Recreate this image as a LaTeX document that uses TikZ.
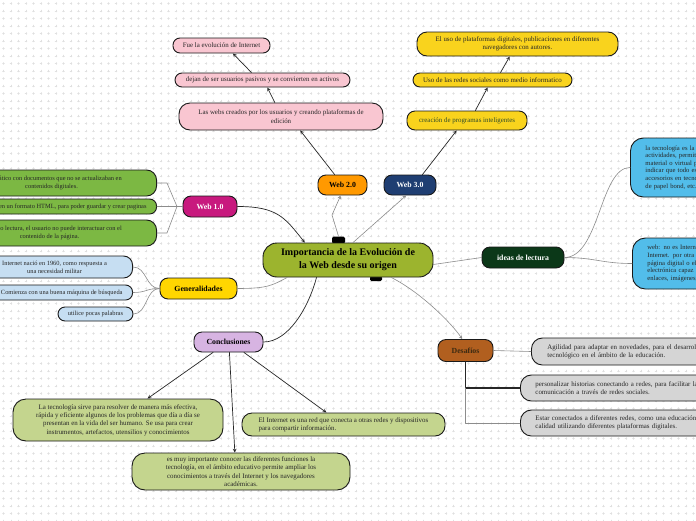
\documentclass[tikz,border=0pt]{standalone}
\usepackage{fontspec}
\setmainfont{Liberation Serif}
\definecolor{cCentral}{HTML}{9CB42E}
\definecolor{cWebII}{HTML}{FF9900}
\definecolor{cWebIII}{HTML}{1F3E72}
\definecolor{cWebI}{HTML}{C8197E}
\definecolor{cGen}{HTML}{FFD600}
\definecolor{cConcl}{HTML}{D7B4E2}
\definecolor{cIdeas}{HTML}{0B3818}
\definecolor{cDesaf}{HTML}{B15F1F}
\definecolor{cDesafTxt}{HTML}{3B2A12}
\definecolor{cPink}{HTML}{F9C6D1}
\definecolor{cGold}{HTML}{F9D31D}
\definecolor{cGreen}{HTML}{7CB843}
\definecolor{cBlue}{HTML}{C6DEF2}
\definecolor{cGray}{HTML}{D5D5D5}
\definecolor{cOlive}{HTML}{C4D58E}
\definecolor{cSky}{HTML}{52BDEA}
\definecolor{cLine}{HTML}{8C8C8C}
\definecolor{cTxtGreen}{HTML}{2E4A2A}
\begin{document}
\begin{tikzpicture}[x=1pt, y=-1pt, line join=round, line cap=round, >=stealth,
	topic/.style={draw=black!90, line width=0.9pt, rounded corners=8pt, minimum height=20pt, inner sep=0pt, font=\bfseries\fontsize{7.8}{9}\selectfont},
	leaf/.style={draw=black!90, line width=0.9pt, rounded corners=7pt, inner sep=0pt, align=center, text=black!85, font=\fontsize{6.9}{8.3}\selectfont},
	small/.style={font=\fontsize{6.4}{7.8}\selectfont},
	link/.style={draw=cLine, line width=0.6pt},
	dlink/.style={draw=black!85, line width=0.7pt},
	tab/.style={fill=black, rounded corners=1.5pt, minimum width=13pt, minimum height=7pt, inner sep=0pt}]
		\useasboundingbox (0,0) rectangle (696,520);
		\fill[white] (0,0) rectangle (696,520);
		\clip (0,0) rectangle (696,520);
		% background crosses
		\draw[black!12, line width=0.35pt] \foreach \i in {0,...,92} {\foreach \j in {0,...,69} {({2.5+7.5*\i},{3.5+7.5*\j}) -- ++(2,0) ({3.5+7.5*\i},{2.5+7.5*\j}) -- ++(0,2)}};
		% centre
		\node[tab] (tabT) at (338.5,240) {};
		\node[tab, minimum width=12pt, minimum height=5pt] (tabB) at (376,278.5) {};
		\node[topic, fill=cCentral, minimum width=170pt, minimum height=34pt, rounded corners=14pt, align=center, font=\bfseries\fontsize{10}{13}\selectfont] (central) at (348,260) {Importancia de la Evolución de\\la Web desde su origen};
		% main topics
		\node[topic, fill=cWebII, minimum width=49pt] (web2) at (342.5,185) {Web 2.0};
		\node[topic, fill=cWebIII, text=white, minimum width=52pt] (web3) at (410,185) {Web 3.0};
		\node[topic, fill=cWebI, text=white, minimum width=54pt, minimum height=21pt] (web1) at (210,206.5) {Web 1.0};
		\node[topic, fill=cGen, minimum width=77pt, minimum height=21pt] (gen) at (198.5,288.5) {Generalidades};
		\node[topic, fill=cConcl, minimum width=69pt] (concl) at (228.5,342) {Conclusiones};
		\node[topic, fill=cIdeas, text=white, minimum width=82pt, minimum height=21pt] (ideas) at (523,257.5) {ideas de lectura};
		\node[topic, fill=cDesaf, text=cDesafTxt, minimum width=55pt, minimum height=22pt] (desaf) at (465.5,350.5) {Desafíos};
		% web 2.0
		\node[leaf, fill=cPink, minimum width=204pt, minimum height=27pt, rounded corners=11pt] (pinkA) at (281,116.5) {Las webs creados por los usuarios y creando plataformas de\\edición};
		\node[leaf, fill=cPink, minimum width=175pt, minimum height=14pt] (pinkB) at (262.5,80) {dejan de ser usuarios pasivos y se convierten en activos};
		\node[leaf, fill=cPink, minimum width=97pt, minimum height=15pt] (pinkC) at (221.5,45.5) {Fue la evolución de Internet};
		% web 3.0
		\node[leaf, fill=cGold, text=cTxtGreen, minimum width=120pt, minimum height=19pt, rounded corners=8pt] (goldA) at (467,120.5) {creación de programas inteligentes};
		\node[leaf, fill=cGold, minimum width=159pt, minimum height=14pt] (goldB) at (492.5,80) {Uso de las redes sociales como medio informatico};
		\node[leaf, fill=cGold, minimum width=201pt, minimum height=24pt, rounded corners=10pt] (goldC) at (517.5,44) {El uso de plataformas digitales, publicaciones en diferentes\\navegadores con autores.};
		% web 1.0
		\node[leaf, small, fill=cGreen, anchor=east, minimum width=210pt, minimum height=26pt, rounded corners=10pt] (grnA) at (157,183) {Era estático con documentos que no se actualizaban en\\contenidos digitales.};
		\node[leaf, small, fill=cGreen, anchor=east, inner xsep=10pt, minimum height=15pt] (grnB) at (157,206.5) {Creado en un formato HTML, para poder guardar y crear paginas};
		\node[leaf, small, fill=cGreen, anchor=east, minimum width=214pt, minimum height=26pt, rounded corners=10pt] (grnC) at (157,233) {Es de solo lectura, el usuario no puede interactuar con el\\contenido de la página.};
		% generalidades
		\node[leaf, small, fill=cBlue, anchor=east, minimum width=156pt, minimum height=22pt, rounded corners=9pt] (bluA) at (133,267) {Internet nació en 1960, como respuesta a\\una necesidad militar};
		\node[leaf, small, fill=cBlue, anchor=east, inner xsep=10pt, minimum height=15pt] (bluB) at (133,292.5) {Comienza con una buena máquina de búsqueda};
		\node[leaf, small, fill=cBlue, minimum width=75pt, minimum height=14pt] (bluC) at (95.5,314) {utilice pocas palabras};
		% desafios
		\node[leaf, fill=cGray, anchor=west, align=left, text width=185pt, inner xsep=16pt, minimum height=27pt, rounded corners=11pt] (gryA) at (531,351.5) {Agilidad para adaptar en novedades, para el desarrollo\\tecnológico en el ámbito de la educación.};
		\node[leaf, fill=cGray, anchor=west, align=left, text width=185pt, inner xsep=15pt, minimum height=26pt, rounded corners=11pt] (gryB) at (520,388) {personalizar historias conectando a redes, para facilitar la\\comunicación a través de redes sociales.};
		\node[leaf, fill=cGray, anchor=west, align=left, text width=185pt, inner xsep=15pt, minimum height=26pt, rounded corners=11pt] (gryC) at (520,423) {Estar conectados a diferentes redes, como una educación de\\calidad utilizando diferentes plataformas digitales.};
		% ideas de lectura
		\node[leaf, fill=cSky, anchor=west, align=left, text width=110pt, inner xsep=15pt, minimum height=59pt, rounded corners=13pt, font=\fontsize{6.6}{7.6}\selectfont] (skyA) at (630,167.5) {la tecnología es la aplicación de\\actividades, permitiendo\\material o virtual para\\indicar que todo es\\accesorios en tecnología\\de papel bond, etc.};
		\node[leaf, fill=cSky, anchor=west, align=left, text width=110pt, inner xsep=15pt, minimum height=51pt, rounded corners=13pt, font=\fontsize{6.6}{7.6}\selectfont] (skyB) at (632,263.5) {web: no es Internet, sino parte del\\Internet. por otra parte, una\\página digital o electrónica\\electrónica capaz de contener\\enlaces, imágenes, etc.};
		% conclusiones
		\node[leaf, fill=cOlive, minimum width=210pt, minimum height=42pt, rounded corners=13pt] (olvL) at (118,420) {La tecnología sirve para resolver de manera más efectiva,\\rápida y eficiente algunos de los problemas que día a día se\\presentan en la vida del ser humano. Se usa para crear\\instrumentos, artefactos, utensilios y conocimientos};
		\node[leaf, fill=cOlive, align=left, minimum width=203pt, minimum height=23pt, rounded corners=10pt] (olvR) at (343.5,424.5) {El Internet es una red que conecta a otras redes y dispositivos\\para compartir información.};
		\node[leaf, fill=cOlive, minimum width=218pt, minimum height=37pt, rounded corners=13pt] (olvM) at (241,471.5) {es muy importante conocer las diferentes funciones la\\tecnología, en el ámbito educativo permite ampliar los\\conocimientos a través del Internet y los navegadores\\académicas.};
		% connectors from the centre
		\draw[link,->] (tabT.north) -- (332,215) -- (web2.260);
		\draw[link,->] (central.74) -- (web3.250);
		\draw[dlink,->] (web1.east) .. controls +(40,0) and +(-20,-25) .. (central.158);
		\draw[link] (gen.east) .. controls +(30,0) and +(-15,8) .. (central.196);
		\draw[dlink] (central.209) .. controls +(-8,30) and +(25,0) .. (concl.east);
		\draw[link,->] (central.338) .. controls +(30,15) and +(-10,-15) .. (desaf.106);
		\draw[link] (central.-3) -- (ideas.west);
		% web 2.0 and web 3.0
		\draw[dlink,->] (web2.127) -- (pinkA.-36);
		\draw[dlink,->] (pinkA.114) -- (pinkB.-57);
		\draw[dlink,->] (pinkB.146) -- (pinkC.-35);
		\draw[dlink,->] (web3.40) -- (goldA.224);
		\draw[dlink,->] (goldA.50) -- (goldB.237);
		\draw[dlink,->] (goldB.43) -- (goldC.238);
		% web 1.0 and generalidades
		\draw[link] (web1.west) -- (177,206.5) -- (167,183) -- (grnA.east);
		\draw[link] (web1.west) -- (grnB.east);
		\draw[link] (web1.west) -- (177,206.5) -- (167,233) -- (grnC.east);
		\foreach \b in {bluA,bluB,bluC}
		\draw[link] (gen.west) .. controls +(-14,0) and +(14,0) .. (\b.east);
		% conclusiones
		\draw[dlink,->] (concl.214) -- (olvL.36);
		\draw[dlink,->] (concl.-85) -- (olvM.108);
		\draw[dlink,->] (concl.-34) -- (olvR.145);
		% ideas de lectura
		\draw[link] (ideas.east) .. controls +(35,0) and +(-30,0) .. (skyA.west);
		\draw[link] (ideas.east) .. controls +(30,0) and +(-30,0) .. (skyB.west);
		% desafios
		\draw[link] (desaf.east) -- (gryA.west);
		\draw[dlink, line width=1.1pt] (desaf.south) -- (desaf.south |- gryB.west) -- (gryB.west);
		\draw[link] (desaf.south |- gryB.west) -- (desaf.south |- gryC.west) -- (gryC.west);
	\end{tikzpicture}
\end{document}
